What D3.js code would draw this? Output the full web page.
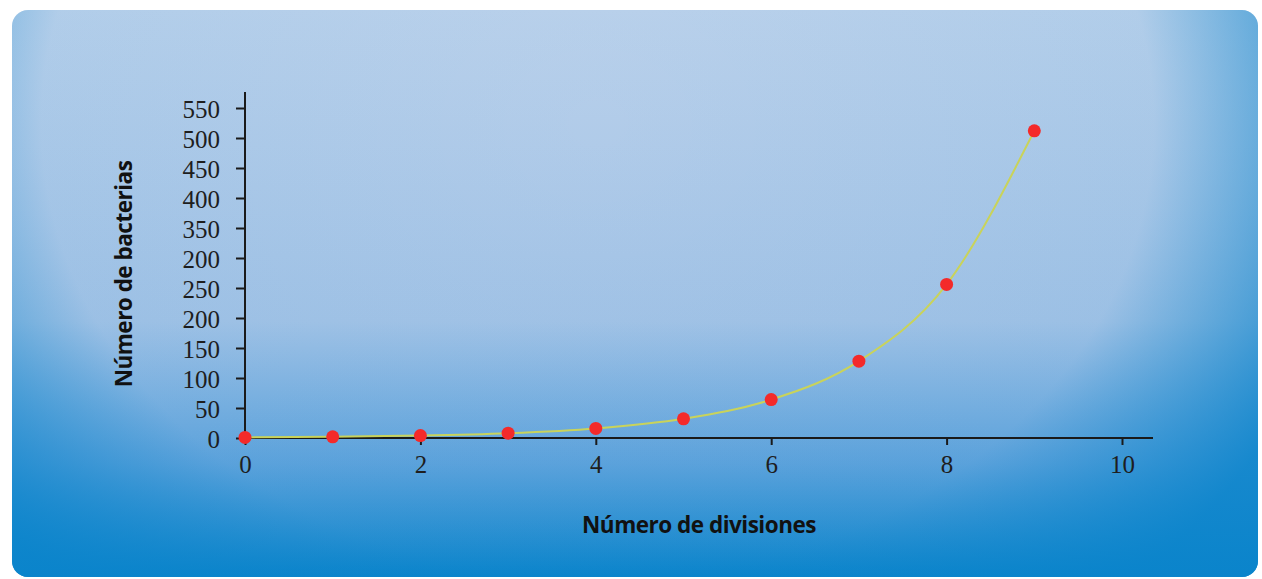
<html>
<script src='https://d3js.org/d3.v7.min.js'></script>
<style>
body { margin: 0; background: #ffffff; }
.tick text { font-family: "Liberation Serif", serif; font-size: 25px; fill: #1e1e1e; }
.domain, .tick line { stroke: #1a1a1a; stroke-width: 2; }
.title { font-family: "Open Sans", sans-serif; font-weight: bold; font-size: 22.5px; fill: #111; letter-spacing: -0.5px; }
</style>
<body onload='init()'>
<svg width=1262 height=579></svg>
<script>
// bacteria doubling
const divisions = [0, 1, 2, 3, 4, 5, 6, 7, 8, 9];
const bacterias = [1, 2, 4, 8, 16, 32, 64, 128, 256, 512];
const xTicks = [0, 2, 4, 6, 8, 10];
const yTicks = [0, 50, 100, 150, 200, 250, 300, 350, 400, 450, 500, 550];
const yTickLabels = ["0", "50", "100", "150", "200", "250", "200", "350", "400", "450", "500", "550"];

function init() {
    const svg = d3.select("svg");

    // background panel
    const defs = svg.append("defs");
    const lin = defs.append("linearGradient").attr("id", "bgLin")
        .attr("x1", 0).attr("y1", 0).attr("x2", 0).attr("y2", 1);
    lin.append("stop").attr("offset", "0%").attr("stop-color", "#bad1eb");
    lin.append("stop").attr("offset", "55%").attr("stop-color", "#a3c3e6");
    lin.append("stop").attr("offset", "80%").attr("stop-color", "#5ea3dc");
    lin.append("stop").attr("offset", "100%").attr("stop-color", "#0a84cb");

    const rad = defs.append("radialGradient").attr("id", "bgRad")
        .attr("cx", 0.47).attr("cy", 0.2).attr("r", 0.62)
        .attr("gradientTransform", "translate(0.47,0.2) scale(1,1.8) translate(-0.47,-0.2)");
    rad.append("stop").attr("offset", "0%").attr("stop-color", "#0a84cb").attr("stop-opacity", 0);
    rad.append("stop").attr("offset", "72%").attr("stop-color", "#0a84cb").attr("stop-opacity", 0.05);
    rad.append("stop").attr("offset", "100%").attr("stop-color", "#0a84cb").attr("stop-opacity", 0.85);

    svg.append("rect").attr("x", 12).attr("y", 10).attr("width", 1246).attr("height", 567)
        .attr("rx", 16).attr("fill", "url(#bgLin)");
    svg.append("rect").attr("x", 12).attr("y", 10).attr("width", 1246).attr("height", 567)
        .attr("rx", 16).attr("fill", "url(#bgRad)");

    const x = d3.scaleLinear().domain([0, 10]).range([245, 1122]);
    const y = d3.scaleLinear().domain([0, 550]).range([438, 108]);

    // axes
    svg.append("g")
        .attr("transform", "translate(0,438)")
        .call(d3.axisBottom(x).tickValues(xTicks).tickSize(7).tickPadding(10).tickSizeOuter(0))
        .call(g => g.select(".domain").attr("d", "M245,0H1153"));

    svg.append("g")
        .attr("transform", "translate(245,0)")
        .call(d3.axisLeft(y).tickValues(yTicks).tickSize(9).tickPadding(16)
            .tickFormat((d, i) => yTickLabels[i]).tickSizeOuter(0))
        .call(g => g.select(".domain").attr("d", "M0,438V92"))
        .call(g => g.selectAll(".tick text").attr("dy", "0.36em"));

    // curve
    const line = d3.line()
        .x((d, i) => x(divisions[i]))
        .y(d => y(d))
        .curve(d3.curveMonotoneX);
    svg.append("path")
        .datum(bacterias)
        .attr("d", line)
        .attr("fill", "none")
        .attr("stroke", "#c9d35a")
        .attr("stroke-width", 2);

    // points
    svg.selectAll("circle")
        .data(bacterias)
        .enter()
        .append("circle")
        .attr("cx", (d, i) => x(divisions[i]))
        .attr("cy", d => y(d))
        .attr("r", 6.5)
        .attr("fill", "#f42a2a");

    // titles
    svg.append("text").attr("class", "title")
        .attr("x", 699).attr("y", 533)
        .attr("text-anchor", "middle")
        .text("Número de divisiones");

    svg.append("text").attr("class", "title")
        .attr("transform", "translate(132,274) rotate(-90)")
        .attr("text-anchor", "middle")
        .text("Número de bacterias");
}
</script>
</body>
</html>
